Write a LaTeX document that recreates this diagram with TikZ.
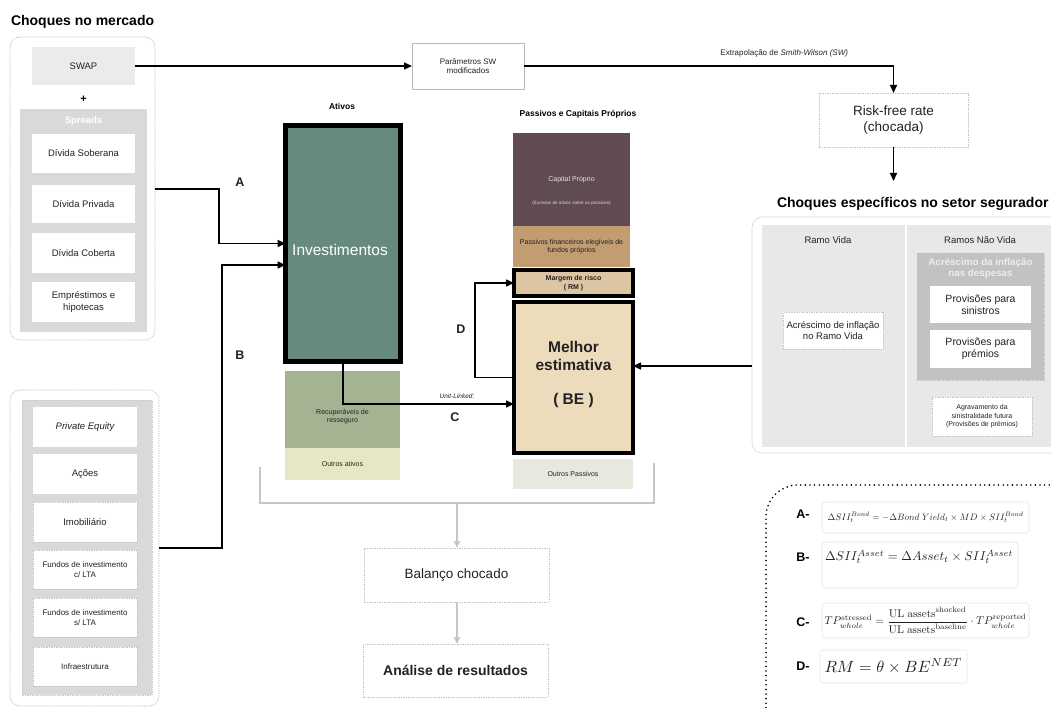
\documentclass[tikz,border=0pt]{standalone}
\usepackage{amsmath}
\usepackage[no-math]{fontspec}
\setmainfont{Liberation Sans}
\usepackage{graphicx}
\usetikzlibrary{arrows.meta}
\definecolor{txt}{HTML}{222222}
\definecolor{swapc}{HTML}{EBEBEB}
\definecolor{sprc}{HTML}{D9D9D9}
\definecolor{invc}{HTML}{668A80}
\definecolor{recc}{HTML}{A4B392}
\definecolor{outac}{HTML}{E6E8C5}
\definecolor{capc}{HTML}{5F4B51}
\definecolor{pfinc}{HTML}{C29D71}
\definecolor{rmc}{HTML}{DCC5A3}
\definecolor{bec}{HTML}{EDDCBB}
\definecolor{outpc}{HTML}{E9E8DE}
\definecolor{panelc}{HTML}{E8E8E8}
\definecolor{despc}{HTML}{C2C2C2}
\begin{document}
\begin{tikzpicture}[x=1pt,y=-1pt,
  every node/.style={text=txt, inner sep=1pt, outer sep=0pt, align=center},
  f5/.style={font=\fontsize{4.6}{5.5}\selectfont},
  f7/.style={font=\fontsize{7}{8.5}\selectfont},
  f8/.style={font=\fontsize{8}{9.5}\selectfont},
  f9/.style={font=\fontsize{9.5}{11.5}\selectfont},
  f10/.style={font=\fontsize{10.5}{12.5}\selectfont},
  f13/.style={font=\fontsize{13.5}{16.5}\selectfont},
  f14/.style={font=\fontsize{14}{17}\selectfont},
  fb12/.style={font=\fontsize{12.5}{15}\selectfont\bfseries},
  wbox/.style={fill=white, f9},
  dbox/.style={fill=white, draw=gray!45, dash pattern=on 1.5pt off 1pt, line width=0.5pt},
  cont/.style={draw=gray!50, dash pattern=on 1.5pt off 1pt, line width=0.6pt, rounded corners=10pt},
  arr/.style={draw=black, line width=1.5pt, -{Triangle[length=8pt,width=7pt]}},
  garr/.style={draw=gray!45, line width=1.8pt, -{Triangle[length=7pt,width=6pt]}},
  thickbox/.style={draw=black, line width=4.5pt},
  fbox/.style={fill=white, draw=gray!20, line width=0.6pt, rounded corners=3pt},
  flab/.style={font=\fontsize{12.5}{15}\selectfont\bfseries, text=black}
]
\useasboundingbox (0,0) rectangle (1051,708);

% ---------- left top: market shocks ----------
\node[anchor=west, f14, font=\fontsize{14}{17}\selectfont\bfseries, text=black] (t1) at (10,22) {Choques no mercado};
\node[cont, minimum width=145pt, minimum height=303pt] (mkt) at (82.5,188.5) {};
\node[fill=swapc, f9, minimum width=103pt, minimum height=38pt] (swap) at (83.5,66) {SWAP};
\node[font=\fontsize{11}{13}\selectfont\bfseries, text=black] (plus) at (83.5,99) {+};
\node[fill=sprc, minimum width=127pt, minimum height=223pt] (spr) at (83.5,220.5) {};
\node[f9, font=\fontsize{9.5}{11.5}\selectfont\bfseries, text=white] (sprt) at (83.5,121) {Spreads};
\node[wbox, minimum width=103pt, minimum height=39pt] (sob) at (83.5,153.5) {Dívida Soberana};
\node[wbox, minimum width=103pt, minimum height=38pt] (priv) at (83.5,204) {Dívida Privada};
\node[wbox, minimum width=103pt, minimum height=40pt] (cob) at (83.5,253) {Dívida Coberta};
\node[wbox, minimum width=103pt, minimum height=40pt] (emp) at (83.5,302) {Empréstimos e\\hipotecas};

% ---------- left bottom ----------
\node[cont, minimum width=149pt, minimum height=316pt] (eq) at (84.5,548) {};
\node[fill=sprc, draw=gray!40, dash pattern=on 1.5pt off 1pt, line width=0.5pt, minimum width=130pt, minimum height=295pt] (eqg) at (87,547.5) {};
\node[wbox, minimum width=104pt, minimum height=40pt] (pe) at (85,427) {\itshape Private Equity};
\node[wbox, minimum width=104pt, minimum height=40pt] (acoes) at (85,474) {Ações};
\node[dbox, f9, minimum width=104pt, minimum height=40pt] (imob) at (85,522) {Imobiliário};
\node[dbox, f8, minimum width=104pt, minimum height=39pt] (fc) at (85,569.5) {Fundos de investimento\\c/ LTA};
\node[dbox, f8, minimum width=104pt, minimum height=39pt] (fs) at (85,617.5) {Fundos de investimento\\s/ LTA};
\node[dbox, f8, minimum width=104pt, minimum height=39pt] (infra) at (85,666.5) {Infraestrutura};

% ---------- assets ----------
\node[f8, font=\fontsize{8.5}{10}\selectfont\bfseries, text=black] (ativos) at (342,106) {Ativos};
\node[thickbox, fill=invc, minimum width=115pt, minimum height=236pt] (inv) at (343,243.5) {};
\node[font=\fontsize{15.5}{18}\selectfont, text=white] (invt) at (340,250) {Investimentos};
\node[fill=recc, minimum width=115pt, minimum height=77pt] (rec) at (342.5,409.5) {};
\node[f7] (rect) at (342.5,416.5) {Recuperáveis de\\resseguro};
\node[fill=outac, f7, minimum width=115pt, minimum height=32pt] (outa) at (342.5,464) {Outros ativos};

% ---------- liabilities ----------
\node[font=\fontsize{8.5}{10}\selectfont\bfseries, text=black] (passt) at (578,114) {Passivos e Capitais Próprios};
\node[fill=capc, minimum width=117pt, minimum height=93pt] (cap) at (571.5,179.5) {};
\node[f7, text=white!90!black] (capt) at (571.5,180) {Capital Próprio};
\node[f5, text=white!85!black] (capt2) at (571.5,203) {(Excesso de ativos sobre os passivos)};
\node[fill=pfinc, f7, minimum width=117pt, minimum height=41pt] (pfin) at (571.5,246.5) {Passivos financeiros elegíveis de\\fundos próprios};
\node[thickbox, fill=rmc, minimum width=119pt, minimum height=26pt, font=\fontsize{7}{8.5}\selectfont\bfseries] (rm) at (573.5,283) {Margem de risco\\( RM )};
\node[thickbox, fill=bec, minimum width=119pt, minimum height=151pt] (be) at (573.5,377.5) {};
\node[font=\fontsize{15.5}{18.5}\selectfont\bfseries] (bet) at (573.5,356) {Melhor\\estimativa};
\node[font=\fontsize{15.5}{18.5}\selectfont\bfseries] (bet2) at (573.5,400) {( BE )};
\node[fill=outpc, f7, minimum width=120pt, minimum height=30pt] (outp) at (573,474) {Outros Passivos};

% ---------- connectors A B C D ----------
\coordinate (aA) at (219,189);
\coordinate (aB) at (222,548);
\coordinate (cC) at (343,404);
\coordinate (dD) at (475,283);
\draw[arr] (mkt.east |- aA) -- (aA) |- (inv.west);
\draw[arr] (eq.east |- aB) -- (aB) |- ([yshift=-21.5pt]inv.west);
\draw[arr] (inv.south) -- (cC) -- (be.west |- cC);
\draw[arr] (be.west) -| (dD) -- (rm.west);
\node[fb12] (lA) at (240,182) {A};
\node[fb12] (lB) at (240,355) {B};
\node[fb12] (lC) at (455,417) {C};
\node[fb12] (lD) at (461,329) {D};
\node[font=\fontsize{6.5}{8}\selectfont\itshape] (ul) at (457,396) {Unit-Linked:};

% ---------- top chain ----------
\node[dbox, draw=gray!55, dash pattern={}, f8, minimum width=112pt, minimum height=46pt] (param) at (468,66) {Parâmetros SW\\modificados};
\node[dbox, f13, minimum width=149pt, minimum height=54pt] (rfr) at (893.5,120) {Risk-free rate\\(chocada)};
\draw[arr] (swap.east) -- (param.west);
\draw[arr] (param.east) -| (rfr.north);
\node[f8, anchor=east] (extr) at (849,53) {Extrapolação de \textit{Smith-Wilson (SW)}};
\coordinate (rfrend) at (893.5,181);
\draw[arr] (rfr.south) -- (rfrend);

% ---------- right: insurance-specific shocks ----------
\node[anchor=west, font=\fontsize{14}{17}\selectfont\bfseries, text=black] (t2) at (776,204) {Choques específicos no setor segurador};
\node[cont, minimum width=318pt, minimum height=236pt] (rbox) at (911,335) {};
\node[fill=panelc, minimum width=143pt, minimum height=222pt] (vida) at (833.5,336) {};
\node[fill=panelc, minimum width=153pt, minimum height=222pt] (nvida) at (983.5,336) {};
\node[f9] (vidat) at (828,240) {Ramo Vida};
\node[f9] (nvidat) at (980,240) {Ramos Não Vida};
\node[dbox, f9, minimum width=100pt, minimum height=37pt] (inflv) at (833,330.5) {Acréscimo de inflação\\no Ramo Vida};
\node[fill=despc, draw=gray!50, dash pattern=on 1.5pt off 1pt, line width=0.4pt, minimum width=127pt, minimum height=127pt] (desp) at (980.5,316.5) {};
\node[font=\fontsize{9.8}{11}\selectfont\bfseries, text=white!93!black] (despt) at (980.5,268) {Acréscimo da inflação\\nas despesas};
\node[wbox, f10, minimum width=101pt, minimum height=37pt] (sin) at (980.5,304.5) {Provisões para\\sinistros};
\node[wbox, f10, minimum width=101pt, minimum height=38pt] (prem) at (980.5,349) {Provisões para\\prémios};
\node[dbox, f7, minimum width=100pt, minimum height=39pt] (agr) at (982,416.5) {Agravamento da\\sinistralidade futura\\(Provisões de prémios)};
\coordinate (rin) at (0,366);
\draw[arr] (rbox.west |- rin) -- (be.east |- rin);

% ---------- balance bracket and results ----------
\coordinate (bk1) at (260,467);
\coordinate (bk2) at (654,503);
\coordinate (bk3) at (654,463);
\coordinate (bkm) at (457,504);
\draw[gray!45, line width=1.8pt] (bk1) |- (bk2) -- (bk3);
\node[dbox, f13, minimum width=185pt, minimum height=54pt] (bal) at (456.5,575) {Balanço chocado};
\node[dbox, font=\fontsize{14}{17}\selectfont\bfseries, minimum width=185pt, minimum height=53pt] (ana) at (455.5,670.5) {Análise de resultados};
\draw[garr] (bkm) -- (bal.north -| bkm);
\draw[garr] (bal.south -| bkm) -- (ana.north -| bkm);

% ---------- formulas ----------
\draw[line width=1.8pt, dash pattern=on 0pt off 4.6pt, line cap=round, rounded corners=32pt] (766,740) -- (766,485) -- (1110,485);
\node[fbox, minimum width=207pt, minimum height=31pt] (fA) at (925.5,517.5) {\resizebox{196pt}{!}{$\Delta SII^{Bond}_t = -\Delta Bond\ Yield_t \times MD \times SII^{Bond}_t$}};
\node[fbox, minimum width=196pt, minimum height=46pt, anchor=north] (fB) at (920,542) {};
\node (fBt) at (919,557) {\resizebox{188pt}{!}{$\Delta SII^{Asset}_t = \Delta Asset_t \times SII^{Asset}_t$}};
\node[fbox, minimum width=207pt, minimum height=35pt] (fC) at (925.5,620.5) {\resizebox{202pt}{!}{$TP^{\mathrm{stressed}}_{whole} = \dfrac{\mathrm{UL\ assets}^{\mathrm{shocked}}}{\mathrm{UL\ assets}^{\mathrm{baseline}}}\cdot TP^{\mathrm{reported}}_{whole}$}};
\node[fbox, minimum width=147pt, minimum height=33pt] (fD) at (893.5,666.5) {\resizebox{138pt}{!}{$RM = \theta \times BE^{NET}$}};
\node[flab] (lfA) at (803,514) {A-};
\node[flab] (lfB) at (803,557) {B-};
\node[flab] (lfC) at (803,622) {C-};
\node[flab] (lfD) at (803,666) {D-};
\end{tikzpicture}
\end{document}
